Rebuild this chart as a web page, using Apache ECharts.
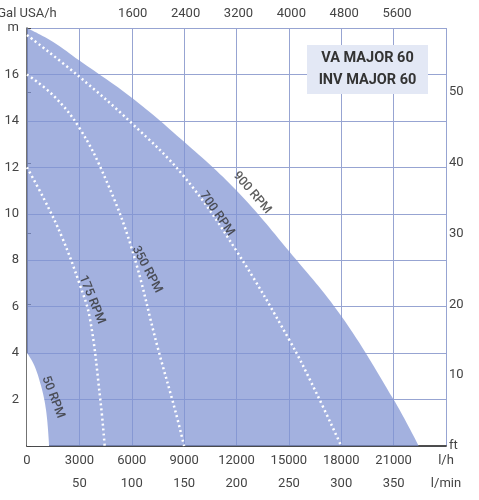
<!DOCTYPE html>
<html><head><meta charset="utf-8">
<script src="https://cdn.jsdelivr.net/npm/echarts@6/dist/echarts.min.js"></script>
<style>html,body{margin:0;padding:0;background:#fff}#c{width:479px;height:500px}</style>
</head><body><div id="c"></div>
<script>
// flow l/h, head m
const rpm900 = [[0,18],[1500,17.4],[3000,16.6],[6000,15.0],[9000,13.1],[12000,11.0],[15000,8.4],[18000,5.6],[21000,2],[22440,0]];
const rpm700 = [[0,17.7],[3000,15.9],[6000,13.9],[9000,11.6],[12000,8.4],[15000,4.6],[16500,2.4],[18000,0]];
const rpm350 = [[0,16],[1500,15.1],[3000,13.7],[4500,11.5],[6000,8.5],[7500,4.2],[8500,1.5],[9000,0]];
const rpm175 = [[0,12],[1000,10.6],[2000,9],[3000,7],[3600,5.5],[4200,2],[4450,0]];
const rpm50  = [[0,4],[400,3.5],[800,2.6],[1100,1.5],[1270,0]];
const curveLabels = [["900 RPM",12890,10.9,-49],["700 RPM",10880,10.0,-55],["350 RPM",6870,7.6,-62],["175 RPM",3720,6.3,-68],["50 RPM",1490,2.1,-69]];
const titleLines = ["VA MAJOR 60","INV MAJOR 60"];

const F = 'Roboto', TC = '#444', GC = '#97a4d2';
const chart = echarts.init(document.getElementById('c'));
const dotted = d => ({type:'line',data:d,smooth:0.4,showSymbol:false,symbol:'none',xAxisIndex:0,yAxisIndex:0,z:5,
  lineStyle:{color:'#fff',width:2.5,type:[2,3]},silent:true});
chart.setOption({
  animation:false,
  grid:{left:27,right:33,top:28,bottom:54,containLabel:false,outerBoundsMode:'none'},
  xAxis:[
    {type:'value',position:'bottom',min:0,max:24000,interval:3000,
      axisLine:{show:true,lineStyle:{color:'#444',width:1.5}},axisTick:{show:false},
      splitLine:{show:true,lineStyle:{color:GC}},alignMinLabel:'right',alignMaxLabel:'right',
      axisLabel:{color:TC,fontFamily:F,fontSize:13,margin:8,formatter:v=>v===24000?'l/h':String(v)}},
    {type:'value',position:'bottom',offset:25,min:0,max:400,interval:50,
      axisLine:{show:true,lineStyle:{color:'#444',width:1.5}},axisTick:{show:false},splitLine:{show:false},
      alignMaxLabel:'right',
      axisLabel:{color:TC,fontFamily:F,fontSize:13,margin:6,formatter:v=>v===0?'':(v===400?'l/min':String(v))}},
    {type:'value',position:'top',min:0,max:24000/3.785,interval:800,
      axisLine:{show:false},axisTick:{show:false},splitLine:{show:false},alignMinLabel:'left',showMaxLabel:false,
      axisLabel:{color:TC,fontFamily:F,fontSize:13,margin:8,formatter:v=>v===0?'Gal USA/h':((v===800||v%800!==0)?'':String(v))}}
  ],
  yAxis:[
    {type:'value',position:'left',min:0,max:18,interval:2,
      axisLine:{show:false},axisTick:{show:false},splitLine:{show:true,lineStyle:{color:GC}},
      axisLabel:{color:TC,fontFamily:F,fontSize:13,margin:8,formatter:v=>v===0?'':(v===18?'m':String(v))}},
    {type:'value',position:'right',min:0,max:18/0.3048,interval:10,showMaxLabel:false,
      axisLine:{show:true,lineStyle:{color:'#444',width:1.5}},axisTick:{show:true,length:4,lineStyle:{color:'#444'}},
      splitLine:{show:false},
      axisLabel:{color:TC,fontFamily:F,fontSize:13,margin:3,formatter:v=>v===0?'ft':(v%10!==0?'':String(v))}}
  ],
  series:[
    {type:'line',data:rpm900,smooth:0.4,symbol:'none',z:2,lineStyle:{width:0},
      areaStyle:{color:'#7f93d3',opacity:0.72},silent:true},
    {type:'line',data:rpm50,smooth:0.4,symbol:'none',z:3,lineStyle:{width:0},
      areaStyle:{color:'#fff',opacity:1},silent:true},
    dotted(rpm700),dotted(rpm350),dotted(rpm175),
    {type:'scatter',data:curveLabels.map(l=>({value:[l[1],l[2]],label:{rotate:l[3],formatter:l[0]}})),
      symbolSize:0,z:6,silent:true,
      label:{show:true,position:'inside',color:'#333',fontFamily:F,fontSize:12.5,fontWeight:500}}
  ],
  graphic:[
    {type:'rect',shape:{x:307,y:45,width:121,height:49},style:{fill:'#e3e8f5'},z:10},
    {type:'text',x:367.5,y:58,style:{text:titleLines[0],fill:'#333',font:'bold 14.5px Roboto',align:'center',verticalAlign:'middle'},z:11},
    {type:'text',x:367.5,y:80,style:{text:titleLines[1],fill:'#333',font:'bold 14.5px Roboto',align:'center',verticalAlign:'middle'},z:11}
  ]
});
</script></body></html>
